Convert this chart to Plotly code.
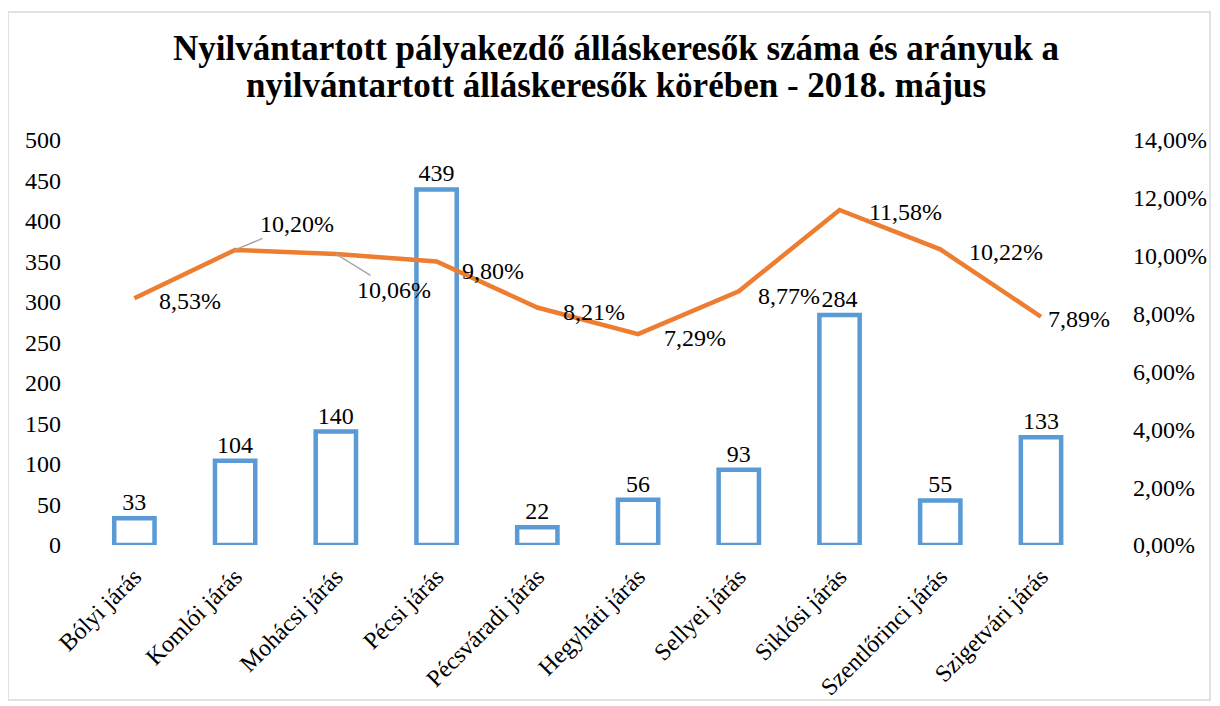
import plotly.graph_objects as go

categories = ["Bólyi járás", "Komlói járás", "Mohácsi járás", "Pécsi járás", "Pécsváradi járás",
              "Hegyháti járás", "Sellyei járás", "Siklósi járás", "Szentlőrinci járás", "Szigetvári járás"]
counts = [33, 104, 140, 439, 22, 56, 93, 284, 55, 133]
rates = [0.0853, 0.1020, 0.1006, 0.0980, 0.0821, 0.0729, 0.0877, 0.1158, 0.1022, 0.0789]
rate_labels = ["8,53%", "10,20%", "10,06%", "9,80%", "8,21%", "7,29%", "8,77%", "11,58%", "10,22%", "7,89%"]
left_ticks = [0, 50, 100, 150, 200, 250, 300, 350, 400, 450, 500]
right_ticks = [0, 0.02, 0.04, 0.06, 0.08, 0.10, 0.12, 0.14]
title_lines = ["Nyilvántartott pályakezdő álláskeresők száma és arányuk a",
               "nyilvántartott álláskeresők körében - 2018. május"]

FONT = "Liberation Serif"
BLUE = "#5B9BD5"
ORANGE = "#ED7D31"
FS = 24

fig = go.Figure()
fig.add_trace(go.Bar(
    x=categories, y=counts, width=0.40,
    marker=dict(color="white", line=dict(color=BLUE, width=4.5)),
    text=[str(v) for v in counts], textposition="outside", cliponaxis=False,
    textfont=dict(family=FONT, size=FS, color="black"),
    name="Pályakezdők száma", showlegend=False,
))
fig.add_trace(go.Scatter(
    x=categories, y=rates, yaxis="y2", mode="lines",
    line=dict(color=ORANGE, width=4.5), name="Arány", showlegend=False,
))

# label offsets (pixels): (xshift, yshift, leader?)
offsets = [(23, -3, False), (62, 26, True), (58, -36, True), (23, -9, False), (24, -4, False),
           (24, -4, False), (17, -5, False), (27, -2, False), (27, -3, False), (5, -2, False)]
for cat, r, lab, (dx, dy, leader) in zip(categories, rates, rate_labels, offsets):
    if leader:
        fig.add_annotation(x=cat, y=r, yref="y2", text=lab, showarrow=True,
                           arrowhead=0, arrowwidth=1.5, arrowcolor="#A6A6A6",
                           ax=dx, ay=-dy, standoff=0,
                           font=dict(family=FONT, size=FS, color="black"))
    else:
        fig.add_annotation(x=cat, y=r, yref="y2", text=lab, showarrow=False,
                           xanchor="left", xshift=dx, yshift=dy,
                           font=dict(family=FONT, size=FS, color="black"))

for line, yy in zip(title_lines, [1.225, 1.135]):
    fig.add_annotation(text="<b>" + line + "</b>", xref="paper", yref="paper",
                       x=0.5175, y=yy, xanchor="center", yanchor="middle", showarrow=False,
                       font=dict(family=FONT, size=35, color="black"))

fig.update_layout(
    width=1212, height=698,
    paper_bgcolor="white", plot_bgcolor="white",
    separators=", ",
    margin=dict(l=76, r=108, t=132, b=161, autoexpand=False),
    xaxis=dict(tickangle=-45, tickfont=dict(family=FONT, size=FS, color="black"),
               showgrid=False, showline=False, ticks="", automargin=False,
               ticklabelstandoff=12),
    yaxis=dict(range=[0, 500], tickvals=left_ticks, showgrid=False, zeroline=False,
               tickfont=dict(family=FONT, size=FS, color="black"), ticks="",
               ticklabelstandoff=22, automargin=False),
    yaxis2=dict(range=[0, 0.14], tickvals=right_ticks, tickformat=".2%", overlaying="y", side="right",
                showgrid=False, zeroline=False, ticks="", automargin=False,
                tickfont=dict(family=FONT, size=FS, color="black"), ticklabelstandoff=20),
    shapes=[dict(type="rect", xref="paper", yref="paper", x0=-0.0739, x1=1.0953, y0=-0.383, y1=1.316,
                 line=dict(color="#D9D9D9", width=1.5), layer="below")],
)

fig.write_html("out.html")
